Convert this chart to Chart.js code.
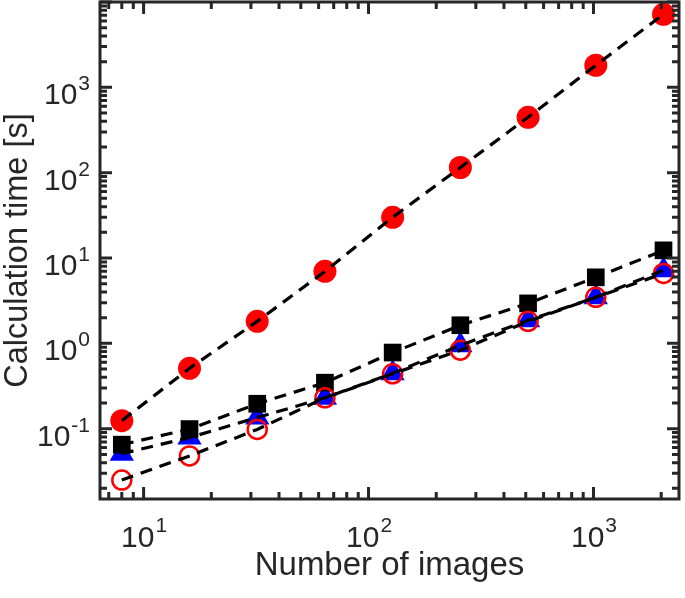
<!DOCTYPE html>
<html>
<head>
<meta charset="utf-8">
<script src="https://cdn.jsdelivr.net/npm/chart.js@4"></script>
<style>
  html, body { margin: 0; padding: 0; background: #fff; }
  canvas { display: block; }
</style>
</head>
<body>
<canvas id="myChart" width="685" height="598"></canvas>
<script>
// data
const nImages = [8, 16, 32, 64, 128, 256, 512, 1024, 2048];
const timeRedFilled = [0.124, 0.51, 1.81, 6.98, 30, 115, 446, 1811, 7180];
const timeSquare = [0.065, 0.099, 0.196, 0.346, 0.78, 1.63, 2.94, 5.94, 12.3];
const timeTriangle = [0.051, 0.0786, 0.135, 0.23, 0.445, 0.95, 1.86, 3.46, 7.2];
const timeOpenCircle = [0.025, 0.048, 0.098, 0.23, 0.44, 0.83, 1.81, 3.46, 6.6];

const xTicks = [10, 100, 1000];
const yTicks = [0.1, 1, 10, 100, 1000];

const textColor = '#262626';
const fontFamily = '"Liberation Sans", Arial, Helvetica, sans-serif';

function pts(ys) {
    return nImages.map((x, i) => ({x: x, y: ys[i]}));
}

function markerSet(ys, style, radius, fill, stroke, bw, order) {
    return {
        data: pts(ys), showLine: false, order: order,
        pointStyle: style, pointRadius: radius, pointHoverRadius: radius,
        pointBackgroundColor: fill, pointBorderColor: stroke, pointBorderWidth: bw
    };
}

function lineSet(ys) {
    return {
        data: pts(ys), order: 0, pointRadius: 0, borderColor: '#000',
        borderWidth: 3.2, borderDash: [12, 8], fill: false, tension: 0
    };
}

function noPad(s) {
    s.paddingLeft = 0; s.paddingRight = 0; s.paddingTop = 0; s.paddingBottom = 0;
}

// MATLAB-like box axes with inward ticks and 10^n labels
const axesPlugin = {
    id: 'axesBox',
    afterDraw(chart) {
        const {ctx, chartArea: a, scales} = chart;
        const xs = scales.x, ys = scales.y;
        ctx.save();
        ctx.strokeStyle = textColor;
        ctx.lineWidth = 3;
        ctx.lineCap = 'butt';

        function minors(min, max) {
            const out = [];
            for (let e = Math.floor(Math.log10(min)); e <= Math.ceil(Math.log10(max)); e++) {
                for (let m = 1; m <= 9; m++) {
                    const v = m * Math.pow(10, e);
                    if (v >= min && v <= max) out.push({v: v, major: m === 1});
                }
            }
            return out;
        }

        ctx.beginPath();
        minors(xs.min, xs.max).forEach(t => {
            const px = xs.getPixelForValue(t.v);
            const len = t.major ? 12 : 7;
            ctx.moveTo(px, a.bottom); ctx.lineTo(px, a.bottom - len);
            ctx.moveTo(px, a.top); ctx.lineTo(px, a.top + len);
        });
        minors(ys.min, ys.max).forEach(t => {
            const py = ys.getPixelForValue(t.v);
            const len = t.major ? 12 : 7;
            ctx.moveTo(a.left, py); ctx.lineTo(a.left + len, py);
            ctx.moveTo(a.right, py); ctx.lineTo(a.right - len, py);
        });
        ctx.stroke();
        ctx.strokeRect(a.left, a.top, a.right - a.left, a.bottom - a.top);

        ctx.fillStyle = textColor;
        ctx.textBaseline = 'alphabetic';
        const baseFont = '30px ' + fontFamily;
        const supFont = '21px ' + fontFamily;

        xTicks.forEach(v => {
            const exp = String(Math.round(Math.log10(v)));
            ctx.font = baseFont; const w1 = ctx.measureText('10').width;
            ctx.font = supFont; const w2 = ctx.measureText(exp).width;
            const px = xs.getPixelForValue(v);
            const x0 = px - (w1 + w2) / 2;
            ctx.textAlign = 'left';
            ctx.font = baseFont; ctx.fillText('10', x0, 547);
            ctx.font = supFont; ctx.fillText(exp, x0 + w1 + 1, 532);
        });
        yTicks.forEach(v => {
            const exp = String(Math.round(Math.log10(v)));
            ctx.font = baseFont; const w1 = ctx.measureText('10').width;
            ctx.font = supFont; const w2 = ctx.measureText(exp).width;
            const py = ys.getPixelForValue(v);
            const x0 = 90 - w1 - w2 - 1;
            ctx.textAlign = 'left';
            ctx.font = baseFont; ctx.fillText('10', x0, py + 17);
            ctx.font = supFont; ctx.fillText(exp, x0 + w1 + 1, py + 3);
        });
        ctx.restore();
    }
};

new Chart(document.getElementById('myChart'), {
    type: 'line',
    data: {
        datasets: [
            markerSet(timeTriangle, 'triangle', 14, '#0000ff', '#0000ff', 0, 4),
            markerSet(timeSquare, 'rect', 12.5, '#000', '#000', 0, 3),
            markerSet(timeOpenCircle, 'circle', 9.5, 'rgba(0,0,0,0)', '#ff0000', 2.5, 2),
            markerSet(timeRedFilled, 'circle', 11.5, '#ff0000', '#ff0000', 0, 1),
            lineSet(timeRedFilled),
            lineSet(timeSquare),
            lineSet(timeTriangle),
            lineSet(timeOpenCircle)
        ]
    },
    options: {
        responsive: false,
        animation: false,
        layout: {autoPadding: false, padding: {top: 2, right: 6, left: 0, bottom: 0}},
        plugins: {legend: {display: false}, tooltip: {enabled: false}},
        scales: {
            x: {
                type: 'logarithmic', min: 6.4, max: 2400,
                grid: {display: false}, border: {display: false},
                ticks: {display: false},
                title: {
                    display: true, text: 'Number of images', color: textColor,
                    font: {family: fontFamily, size: 33, lineHeight: 1},
                    padding: {top: 0, bottom: 16}
                },
                afterFit(s) { s.height = 99; noPad(s); }
            },
            y: {
                type: 'logarithmic', min: 0.015, max: 10000,
                grid: {display: false}, border: {display: false},
                ticks: {display: false},
                title: {
                    display: true, text: 'Calculation time [s]', color: textColor,
                    font: {family: fontFamily, size: 32.5, lineHeight: 1},
                    padding: {top: 2, bottom: 0}
                },
                afterFit(s) { s.width = 100; noPad(s); }
            }
        }
    },
    plugins: [axesPlugin]
});
</script>
</body>
</html>
